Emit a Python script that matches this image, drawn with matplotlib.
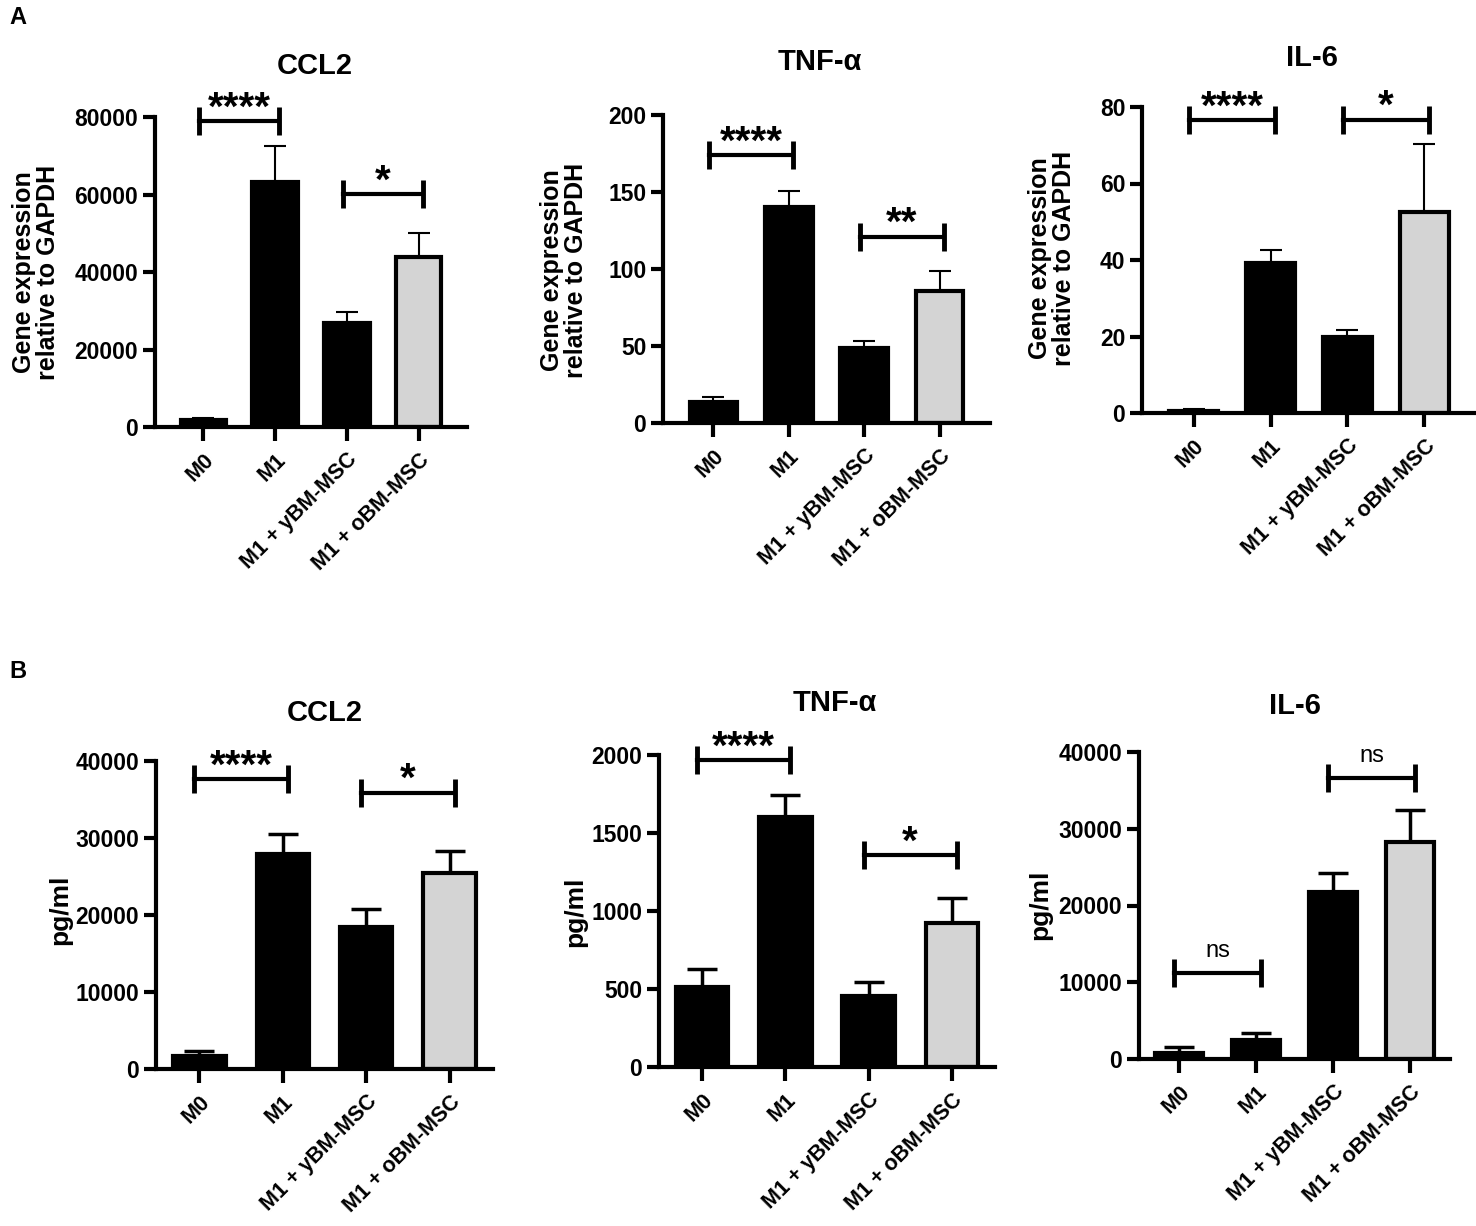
import numpy as np
import matplotlib
matplotlib.use("Agg")
import matplotlib.pyplot as plt

plt.rcParams['font.family'] = ['Liberation Sans', 'DejaVu Sans']

W, H = 1476, 1226

groups = ["M0", "M1", "M1 + yBM-MSC", "M1 + oBM-MSC"]
bar_colors = ["black", "black", "black", "#d4d4d4"]

## panel A: qPCR (gene expression relative to GAPDH)
a_ccl2 = [1750, 63200, 26800, 44000]
a_ccl2_err = [500, 9200, 2900, 6100]
a_tnf = [13.6, 140, 49, 85.5]
a_tnf_err = [3.3, 10.8, 4.1, 12.9]
a_il6 = [0.6, 39.3, 19.8, 52.5]
a_il6_err = [0.4, 3.4, 1.9, 17.8]

## panel B: ELISA (pg/ml)
b_ccl2 = [1730, 27900, 18450, 25450]
b_ccl2_err = [650, 2600, 2300, 2850]
b_tnf = [515, 1600, 453, 922]
b_tnf_err = [112, 145, 89, 161]
b_il6 = [740, 2520, 21700, 28300]
b_il6_err = [870, 910, 2500, 4100]

# comparisons: (i, j, height, label)
a_ccl2_sig = [(0, 1, 78900, "****"), (2, 3, 60200, "*")]
a_tnf_sig = [(0, 1, 174, "****"), (2, 3, 121, "**")]
a_il6_sig = [(0, 1, 76.5, "****"), (2, 3, 76.7, "*")]
b_ccl2_sig = [(0, 1, 37700, "****"), (2, 3, 35900, "*")]
b_tnf_sig = [(0, 1, 1968, "****"), (2, 3, 1356, "*")]
b_il6_sig = [(0, 1, 11150, "ns"), (2, 3, 36650, "ns")]

fig = plt.figure(figsize=(W / 100, H / 100), dpi=100)


def px_axes(l, b, r, t):
    return fig.add_axes([l / W, 1 - b / H, (r - l) / W, (b - t) / H])


def panel(box, vals, errs, sig, ymax, yticks, title, title_xy, ylab, ylab_xy,
          xlim, elw, cap, ylab_fs=18):
    ax = px_axes(*box)
    x = np.arange(len(groups))
    ax.bar(x, vals, width=0.63, color=bar_colors, edgecolor="black",
           linewidth=3, zorder=2)
    ax.errorbar(x, vals, yerr=[np.zeros(len(vals)), errs], fmt="none",
                ecolor="black", elinewidth=elw, capsize=cap, capthick=elw,
                zorder=1)
    ax.set_xlim(*xlim)
    ax.set_ylim(0, ymax)
    ax.set_yticks(yticks)
    ax.set_xticks(x)
    ax.set_xticklabels(groups, rotation=45, ha="right", rotation_mode="anchor",
                       fontsize=15.5, fontweight="bold")
    for lab in ax.get_yticklabels():
        lab.set_fontweight("bold")
        lab.set_fontsize(16.5)
    for s in ["top", "right"]:
        ax.spines[s].set_visible(False)
    for s in ["left", "bottom"]:
        ax.spines[s].set_linewidth(3)
    ax.tick_params(axis="y", length=9, width=3, pad=3)
    ax.tick_params(axis="x", length=10, width=3, pad=6)
    for i, j, h, lab in sig:
        ax.plot([i - 0.06, j + 0.06], [h, h], color="black", lw=3,
                marker="|", markersize=20, mew=3.5, clip_on=False)
        if lab == "ns":
            ax.annotate(lab, ((i + j) / 2, h), xytext=(0, 8),
                        textcoords="offset points", ha="center", va="bottom",
                        fontsize=17, annotation_clip=False)
        else:
            ax.annotate(lab, ((i + j) / 2, h), xytext=(0, 1),
                        textcoords="offset points", ha="center",
                        va="baseline", fontsize=29, fontweight="bold",
                        annotation_clip=False)
    fig.text(title_xy[0] / W, 1 - title_xy[1] / H, title, ha="center",
             va="center", fontsize=21, fontweight="bold")
    fig.text(ylab_xy[0] / W, 1 - ylab_xy[1] / H, ylab, ha="center",
             va="center", rotation=90, fontsize=ylab_fs, fontweight="bold",
             linespacing=1.05)
    return ax


gene_lab = "Gene expression\nrelative to GAPDH"
xa = (-0.67, 3.67)
xb = (-0.52, 3.52)

panel((155, 427, 467, 117), a_ccl2, a_ccl2_err, a_ccl2_sig, 80000,
      [0, 20000, 40000, 60000, 80000], "CCL2", (315, 66), gene_lab, (36, 272),
      xa, 1.5, 8)
panel((663, 423, 990, 115), a_tnf, a_tnf_err, a_tnf_sig, 200,
      [0, 50, 100, 150, 200], "TNF-α", (820, 62), gene_lab, (564, 270),
      xa, 1.5, 8)
panel((1142, 413, 1476, 107), a_il6, a_il6_err, a_il6_sig, 80,
      [0, 20, 40, 60, 80], "IL-6", (1312, 58), gene_lab, (1052, 258),
      xa, 1.5, 8)

panel((156, 1069, 493, 761), b_ccl2, b_ccl2_err, b_ccl2_sig, 40000,
      [0, 10000, 20000, 30000, 40000], "CCL2", (325, 713), "pg/ml", (60, 910),
      xb, 2.5, 11, 19)
panel((659, 1067, 995, 755), b_tnf, b_tnf_err, b_tnf_sig, 2000,
      [0, 500, 1000, 1500, 2000], "TNF-α", (835, 703), "pg/ml", (575, 912),
      xb, 2.5, 11, 19)
panel((1139, 1059, 1450, 752), b_il6, b_il6_err, b_il6_sig, 40000,
      [0, 10000, 20000, 30000, 40000], "IL-6", (1295, 706), "pg/ml", (1040, 905),
      xb, 2.5, 11, 19)

fig.text(18 / W, 1 - 18 / H, "A", ha="center", va="center", fontsize=17,
         fontweight="bold")
fig.text(18 / W, 1 - 672 / H, "B", ha="center", va="center", fontsize=17,
         fontweight="bold")

fig.savefig("out.png", dpi=100)
